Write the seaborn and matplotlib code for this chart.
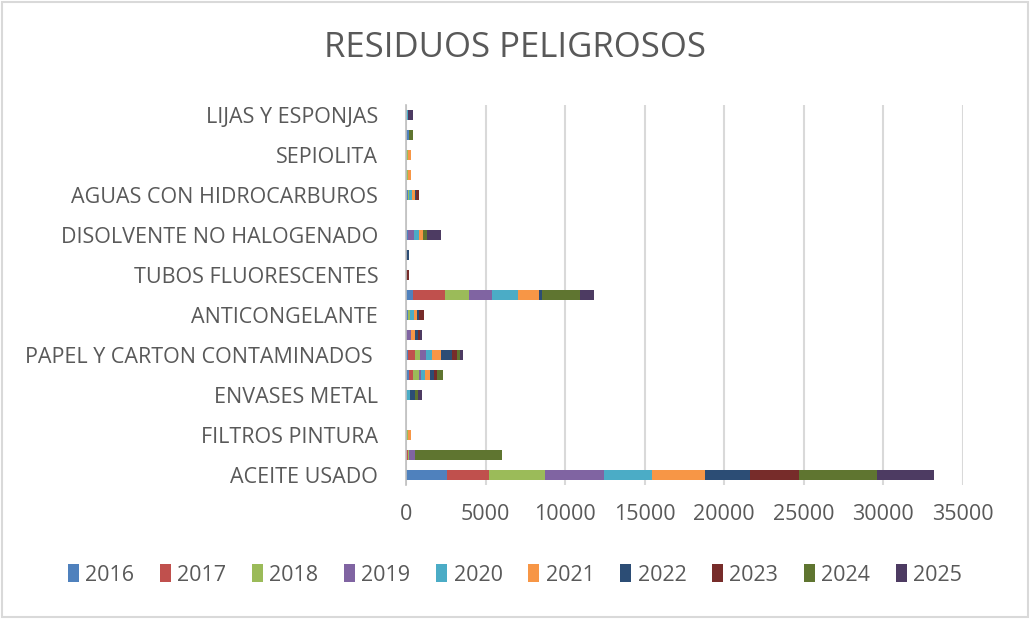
import numpy as np
import pandas as pd
import matplotlib
matplotlib.use("Agg")
import matplotlib.pyplot as plt
from matplotlib.patches import Patch, Rectangle
import seaborn as sns

categories = [
    "LIJAS Y ESPONJAS", "ABSORBENTES CONTAMINADOS", "SEPIOLITA", "AEROSOLES",
    "AGUAS CON HIDROCARBUROS", "BATERIAS", "DISOLVENTE NO HALOGENADO", "PINTURAS",
    "TUBOS FLUORESCENTES", "ENVASES PLASTICO CONTAMINADOS", "ANTICONGELANTE",
    "TRAPOS CONTAMINADOS", "PAPEL Y CARTON CONTAMINADOS ", "FILTROS ACEITE",
    "ENVASES METAL", "TONER", "FILTROS PINTURA", "LIQUIDO DE FRENOS", "ACEITE USADO",
]
years = ["2016", "2017", "2018", "2019", "2020", "2021", "2022", "2023", "2024", "2025"]

y2016 = [0, 200, 0, 0, 100, 0, 125, 0, 0, 460, 150, 0, 150, 210, 0, 30, 0, 0, 2560]
y2017 = [0, 0, 0, 0, 0, 0, 0, 0, 0, 2010, 0, 0, 420, 200, 0, 0, 0, 100, 2650]
y2018 = [0, 0, 100, 100, 100, 0, 0, 0, 0, 1490, 100, 0, 310, 420, 0, 0, 130, 100, 3530]
y2019 = [0, 0, 0, 0, 0, 0, 375, 0, 0, 1420, 0, 300, 360, 100, 0, 0, 0, 350, 3720]
y2020 = [150, 0, 0, 0, 200, 0, 335, 0, 0, 1630, 250, 0, 420, 250, 250, 0, 0, 0, 2980]
y2021 = [0, 0, 200, 200, 150, 0, 250, 0, 0, 1340, 180, 270, 520, 300, 0, 0, 200, 0, 3370]
y2022 = [0, 0, 0, 0, 50, 0, 0, 190, 0, 210, 150, 200, 690, 270, 310, 0, 0, 0, 2810]
y2023 = [0, 0, 0, 0, 230, 0, 0, 0, 190, 0, 300, 100, 360, 210, 0, 0, 0, 0, 3070]
y2024 = [0, 250, 0, 0, 0, 0, 210, 0, 0, 2360, 0, 0, 170, 380, 200, 0, 0, 5470, 4910]
y2025 = [280, 0, 0, 0, 0, 0, 880, 0, 0, 900, 0, 130, 170, 0, 230, 0, 0, 0, 3580]

series = [y2016, y2017, y2018, y2019, y2020, y2021, y2022, y2023, y2024, y2025]
colors = ["#4F81BD", "#C0504D", "#9BBB59", "#8064A2", "#4BACC6",
          "#F79646", "#2C4D75", "#772C2A", "#5F7530", "#4D3B62"]

xticks = [0, 5000, 10000, 15000, 20000, 25000, 30000, 35000]
title = "RESIDUOS PELIGROSOS"

sns.set_theme(style="white")
plt.rcParams["font.family"] = ["Open Sans", "DejaVu Sans"]
TXT = "#595959"

df = pd.DataFrame({y: s for y, s in zip(years, series)}, index=categories)
cum = df.cumsum(axis=1)

fig = plt.figure(figsize=(10.30, 6.19), dpi=100)
ax = fig.add_axes([406 / 1030, 1 - 485 / 619, (963 - 406) / 1030, 380 / 619])

for j in range(len(years) - 1, -1, -1):
    d = pd.DataFrame({"cat": categories, "val": cum[years[j]].values})
    sns.barplot(data=d, x="val", y="cat", order=categories, orient="h",
                color=colors[j], width=0.5, errorbar=None, linewidth=0,
                saturation=1, ax=ax)

ax.set_xlim(0, 35000)
ax.set_ylim(18.5, -0.5)
ax.set_xticks(xticks)
ax.set_xticklabels([str(v) for v in xticks], fontsize=15.5, color=TXT)
shown = list(range(0, len(categories), 2))
ax.set_yticks(shown)
ax.set_yticklabels([categories[i] for i in shown], fontsize=15.5, color=TXT)
ax.tick_params(axis="x", length=0, pad=14)
ax.tick_params(axis="y", length=0, pad=20)
ax.set_xlabel("")
ax.set_ylabel("")
ax.grid(axis="x", color="#D9D9D9", linewidth=1.5)
ax.set_axisbelow(True)
for s in ["top", "right", "bottom"]:
    ax.spines[s].set_visible(False)
ax.spines["left"].set_color("#BFBFBF")
ax.spines["left"].set_linewidth(1.2)

fig.text(0.5, 1 - 48 / 619, title, ha="center", va="center", fontsize=25, color=TXT)

handles = [Patch(facecolor=c, edgecolor="none", label=y) for y, c in zip(years, colors)]
fig.legend(handles=handles, loc="center", bbox_to_anchor=(0.5, 1 - 575 / 619),
           ncol=10, frameon=False, fontsize=15.5, labelcolor=TXT,
           handlelength=0.5, handleheight=0.9, handletextpad=0.3, columnspacing=1.2)

fig.patches.append(Rectangle((0.002, 0.003), 0.996, 0.994, transform=fig.transFigure,
                             fill=False, edgecolor="#D9D9D9", linewidth=1.5))

fig.savefig("out.png", dpi=100)
